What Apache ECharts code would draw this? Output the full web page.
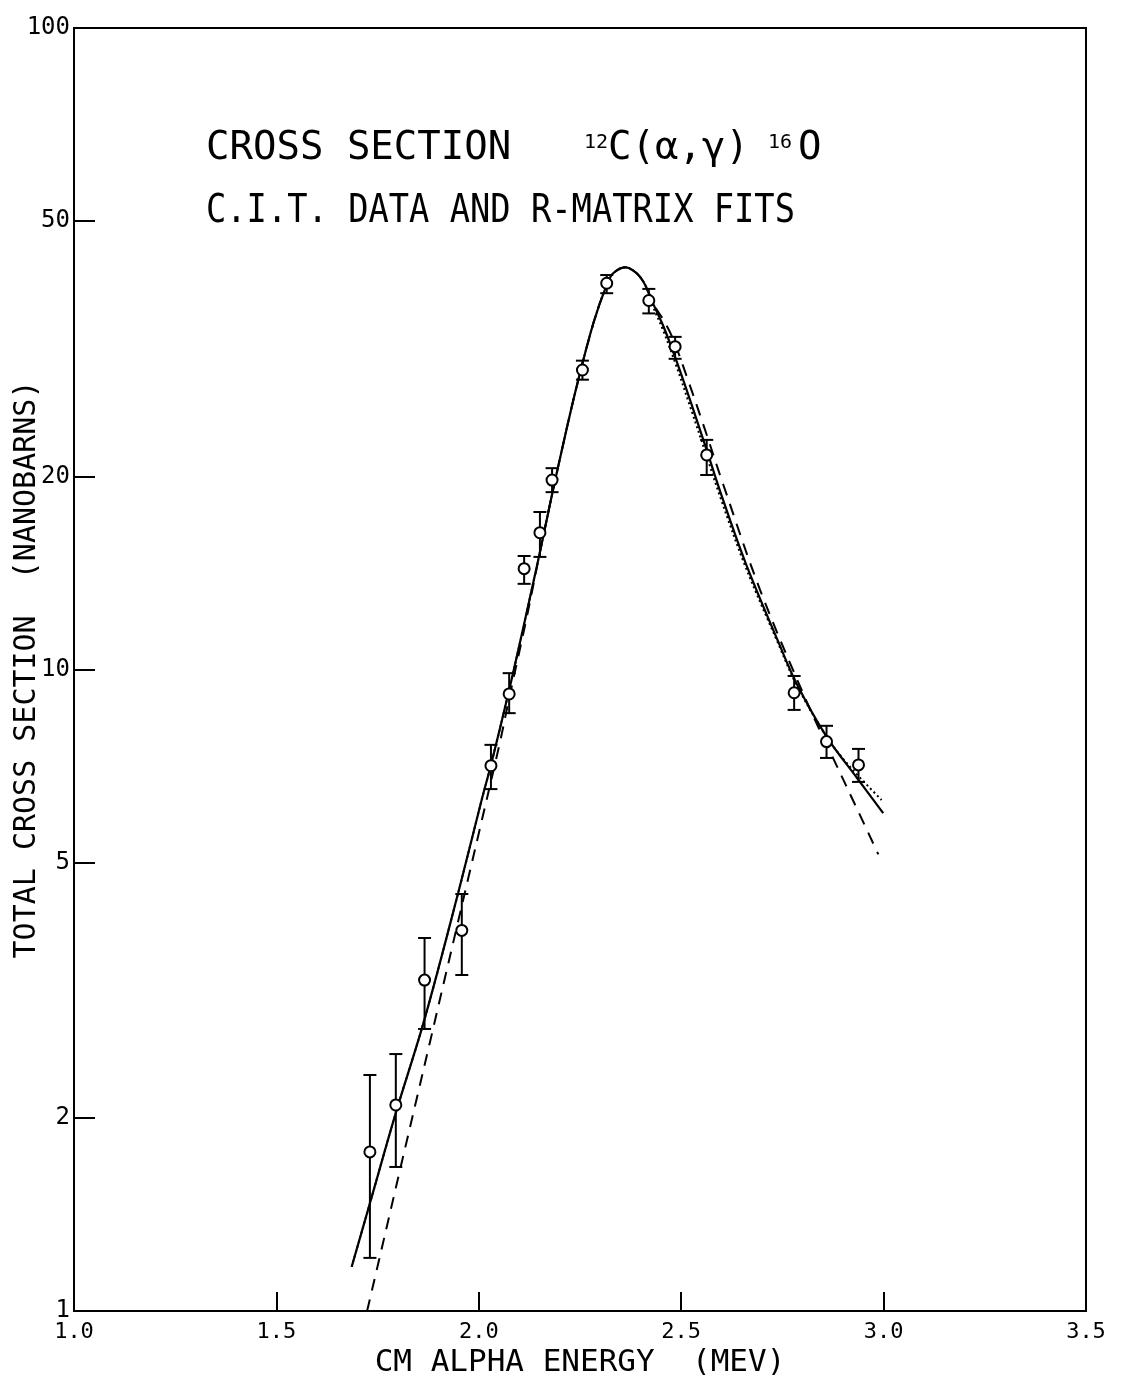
<!DOCTYPE html>
<html>
<head>
<meta charset="utf-8">
<script src="https://cdn.jsdelivr.net/npm/echarts@6/dist/echarts.min.js"></script>
<style>
  html, body { margin: 0; padding: 0; background: #fff; }
  #chart { width: 1123px; height: 1380px; }
</style>
</head>
<body>
<div id="chart"></div>
<script>
// ---- data ----
const xTickLabels = [1.0, 1.5, 2.0, 2.5, 3.0, 3.5];
const yTickLabels = [1, 2, 5, 10, 20, 50, 100];
const yTickMarks = [2, 5, 10, 20, 50];

// measured points (CM alpha energy, MeV ; total cross section, nb)
const energy = [1.731, 1.795, 1.866, 1.958, 2.030, 2.075, 2.112, 2.151, 2.181, 2.256, 2.316, 2.420, 2.485, 2.563, 2.779, 2.859, 2.938];
const sigma  = [1.77, 2.095, 3.28, 3.92, 7.08, 9.16, 14.36, 16.34, 19.74, 29.3, 40.0, 37.6, 31.86, 21.6, 9.20, 7.72, 7.10];
const errLow  = [1.21, 1.677, 2.752, 3.34, 6.51, 8.55, 13.6, 14.98, 18.9, 28.3, 38.6, 35.9, 30.5, 20.1, 8.65, 7.28, 6.68];
const errHigh = [2.333, 2.515, 3.815, 4.467, 7.63, 9.87, 15.03, 17.6, 20.6, 30.3, 41.2, 39.2, 33.0, 22.8, 9.77, 8.17, 7.52];

// R-matrix fit, solid
const solidE = [1.686, 1.731, 1.795, 1.866, 1.949, 2.007, 2.030, 2.075, 2.118, 2.151, 2.180, 2.213, 2.242, 2.283, 2.316, 2.332, 2.362, 2.390, 2.411, 2.431, 2.456, 2.485, 2.522, 2.563, 2.596, 2.658, 2.740, 2.785, 2.859, 2.934, 2.999];
const solidV = [1.172, 1.472, 2.036, 2.851, 4.483, 6.26, 7.10, 9.29, 12.25, 15.24, 18.62, 23.12, 27.67, 34.65, 39.76, 41.46, 42.36, 41.46, 39.76, 37.15, 34.28, 30.69, 26.30, 21.98, 18.97, 14.72, 11.04, 9.51, 7.86, 6.78, 5.97];

// R-matrix fit, dotted
const dottedE = [1.686, 1.731, 1.795, 1.866, 1.949, 2.007, 2.030, 2.075, 2.118, 2.151, 2.180, 2.213, 2.242, 2.283, 2.316, 2.332, 2.362, 2.390, 2.411, 2.431, 2.456, 2.485, 2.522, 2.563, 2.596, 2.658, 2.740, 2.785, 2.859, 2.913, 2.995];
const dottedV = [1.172, 1.472, 2.036, 2.851, 4.483, 6.26, 7.10, 9.29, 12.25, 15.24, 18.62, 23.12, 27.67, 34.65, 39.76, 41.46, 42.36, 41.46, 39.76, 36.7, 33.7, 30.1, 25.7, 21.5, 18.6, 14.5, 10.96, 9.46, 7.86, 7.10, 6.26];

// R-matrix fit, dashed
const dashedE = [1.724, 1.756, 1.805, 1.847, 1.879, 1.917, 1.945, 1.974, 2.003, 2.052, 2.075, 2.118, 2.151, 2.180, 2.213, 2.242, 2.283, 2.316, 2.332, 2.362, 2.390, 2.411, 2.431, 2.456, 2.480, 2.513, 2.555, 2.604, 2.695, 2.810, 2.872, 2.934, 2.987];
const dashedV = [1.0, 1.219, 1.656, 2.148, 2.62, 3.32, 3.95, 4.73, 5.66, 7.69, 9.02, 12.02, 15.24, 18.62, 23.12, 27.67, 34.65, 39.76, 41.46, 42.36, 41.46, 39.76, 37.15, 35.08, 32.73, 28.71, 24.04, 19.41, 13.30, 8.91, 7.35, 6.07, 5.15];

const titleLine1 = 'CROSS SECTION';
const reactionParts = ['12', 'C(α,γ)', '16', 'O'];
const titleLine2 = 'C.I.T. DATA AND R-MATRIX FITS';
const xTitle = 'CM ALPHA ENERGY  (MEV)';
const yTitle = 'TOTAL CROSS SECTION  (NANOBARNS)';

// ---- chart ----
const FONT = "'DejaVu Sans Mono', 'Liberation Mono', monospace";
const pairs = (a, b) => a.map((v, i) => [v, b[i]]);

const chart = echarts.init(document.getElementById('chart'), null, { renderer: 'canvas' });

const option = {
  backgroundColor: '#fff',
  animation: false,
  grid: {
    left: 74, right: 37, top: 28, bottom: 69,
    outerBoundsMode: 'none', containLabel: false,
    show: true, borderColor: '#000', borderWidth: 2, backgroundColor: 'transparent'
  },
  xAxis: {
    type: 'value', min: 1.0, max: 3.5, interval: 0.5,
    axisLine: { show: true, lineStyle: { color: '#000', width: 2 } },
    axisTick: { show: true, inside: true, length: 19, lineStyle: { color: '#000', width: 2 } },
    axisLabel: {
      color: '#000', fontFamily: FONT, fontSize: 22, margin: 10,
      formatter: v => { const t = xTickLabels.find(x => Math.abs(x - v) < 1e-6); return t === undefined ? '' : t.toFixed(1); }
    },
    splitLine: { show: false },
    name: xTitle, nameLocation: 'middle', nameGap: 36, nameMoveOverlap: false,
    nameTextStyle: { color: '#000', fontFamily: FONT, fontSize: 31 }
  },
  yAxis: {
    type: 'log', logBase: 10, min: 1, max: 100,
    axisLine: { show: true, lineStyle: { color: '#000', width: 2 } },
    axisTick: { show: true, inside: true, length: 21, customValues: yTickMarks, lineStyle: { color: '#000', width: 2 } },
    axisLabel: {
      color: '#000', fontFamily: FONT, fontSize: 24, margin: 4,
      customValues: yTickLabels, showMinLabel: true, showMaxLabel: true,
      padding: [0, 0, 12, 0],
      formatter: v => String(Math.round(v))
    },
    splitLine: { show: false },
    name: yTitle, nameLocation: 'middle', nameGap: 32, nameRotate: 90, nameMoveOverlap: false,
    nameTextStyle: { color: '#000', fontFamily: FONT, fontSize: 30 }
  },
  series: [
    {
      name: 'solid', type: 'line', data: pairs(solidE, solidV), showSymbol: false, symbol: 'none',
      smooth: 0.35, lineStyle: { color: '#000', width: 2.2, type: 'solid' }, z: 3
    },
    {
      name: 'dotted', type: 'line', data: pairs(dottedE, dottedV), showSymbol: false, symbol: 'none',
      smooth: 0.35, lineStyle: { color: '#000', width: 2, type: [2, 3] }, z: 2
    },
    {
      name: 'dashed', type: 'line', data: pairs(dashedE, dashedV), showSymbol: false, symbol: 'none',
      smooth: 0.35, lineStyle: { color: '#000', width: 2, type: [12, 9] }, z: 2
    },
    {
      name: 'errors', type: 'custom',
      data: energy.map((e, i) => [e, errLow[i], errHigh[i]]),
      encode: { x: 0, y: [1, 2] },
      renderItem: (params, api) => {
        const x = api.value(0);
        const pLo = api.coord([x, api.value(1)]);
        const pHi = api.coord([x, api.value(2)]);
        const hw = 6.5;
        const st = { stroke: '#000', lineWidth: 2 };
        return {
          type: 'group',
          children: [
            { type: 'line', shape: { x1: pLo[0], y1: pLo[1], x2: pHi[0], y2: pHi[1] }, style: st },
            { type: 'line', shape: { x1: pLo[0] - hw, y1: pLo[1], x2: pLo[0] + hw, y2: pLo[1] }, style: st },
            { type: 'line', shape: { x1: pHi[0] - hw, y1: pHi[1], x2: pHi[0] + hw, y2: pHi[1] }, style: st }
          ]
        };
      },
      z: 4
    },
    {
      name: 'data', type: 'scatter', data: pairs(energy, sigma),
      symbol: 'circle', symbolSize: 11,
      itemStyle: { color: '#fff', borderColor: '#000', borderWidth: 2, opacity: 1 },
      z: 5
    }
  ],
  graphic: [
    { type: 'text', left: 206, top: 129, style: { text: titleLine1, font: "39px " + FONT, fill: '#000' } },
    { type: 'text', left: 584, top: 133, style: { text: reactionParts[0], font: "20px " + FONT, fill: '#000' } },
    { type: 'text', left: 608, top: 129, style: { text: reactionParts[1], font: "39px " + FONT, fill: '#000' } },
    { type: 'text', left: 768, top: 133, style: { text: reactionParts[2], font: "20px " + FONT, fill: '#000' } },
    { type: 'text', left: 798, top: 129, style: { text: reactionParts[3], font: "39px " + FONT, fill: '#000' } },
    { type: 'text', x: 206, y: 192, scaleX: 0.865, style: { text: titleLine2, font: "39px " + FONT, fill: '#000' } }
  ]
};

chart.setOption(option);
</script>
</body>
</html>
